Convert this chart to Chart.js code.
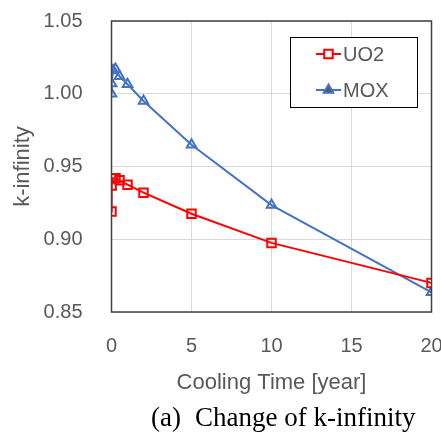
<!DOCTYPE html>
<html>
<head>
<meta charset="utf-8">
<script src="https://cdn.jsdelivr.net/npm/chart.js@4.4.1/dist/chart.umd.min.js"></script>
<style>
  html, body { margin: 0; padding: 0; background: #fff; }
  #wrap { width: 441px; height: 435px; }
</style>
</head>
<body>
<div id="wrap"><canvas id="kinf" width="441" height="435"></canvas></div>
<script>
// datos
const coolingTime = [0, 0.01, 0.1, 0.25, 0.5, 1, 2, 5, 10, 20];
const uo2 = [0.919, 0.937, 0.942, 0.942, 0.9405, 0.9375, 0.932, 0.9175, 0.8975, 0.870];
const mox = [1.000, 1.007, 1.016, 1.017, 1.012, 1.0065, 0.995, 0.965, 0.9235, 0.8635];
const xTicks = [0, 5, 10, 15, 20];
const yTicks = [0.85, 0.90, 0.95, 1.00, 1.05];
const captionTag = "(a)";
const captionText = "Change of k-infinity";

const grey = "#595959";
const sans = "'Liberation Sans', Arial, sans-serif";
const serif = "'Liberation Serif', 'Times New Roman', serif";

const toPoints = (ys) => coolingTime.map((x, i) => ({ x, y: ys[i] }));

// marco del area, leyenda y pie tipo Excel
const frameLegend = {
  id: "frameLegend",
  afterDraw(chart) {
    const { ctx, chartArea: a } = chart;
    ctx.save();
    ctx.strokeStyle = "#404040";
    ctx.lineWidth = 1.5;
    ctx.strokeRect(a.left, a.top, a.right - a.left, a.bottom - a.top);

    // leyenda
    ctx.fillStyle = "#fff";
    ctx.fillRect(290, 37, 127, 70);
    ctx.strokeStyle = "#000";
    ctx.lineWidth = 1;
    ctx.strokeRect(290.5, 37.5, 127, 70);
    const rows = [54, 90];
    chart.data.datasets.forEach((ds, i) => {
      const y = rows[i];
      ctx.strokeStyle = ds.borderColor;
      ctx.lineWidth = 2;
      ctx.beginPath();
      ctx.moveTo(316, y);
      ctx.lineTo(341, y);
      ctx.stroke();
      Chart.helpers.drawPoint(ctx, {
        pointStyle: ds.pointStyle,
        radius: ds.pointRadius,
        borderWidth: 2
      }, 328.5, y);
      ctx.fillStyle = grey;
      ctx.font = "20px " + sans;
      ctx.textBaseline = "middle";
      ctx.textAlign = "left";
      ctx.fillText(ds.label, 343, y + 1);
    });

    // pie de figura
    ctx.fillStyle = "#000";
    ctx.font = "27px " + serif;
    ctx.textAlign = "left";
    ctx.textBaseline = "alphabetic";
    ctx.fillText(captionTag, 151, 426);
    ctx.fillText(captionText, 195, 426);
    ctx.restore();
  }
};

new Chart(document.getElementById("kinf"), {
  type: "line",
  data: {
    datasets: [{
      label: "UO2",
      data: toPoints(uo2),
      borderColor: "#ff0000",
      pointBorderColor: "#ff0000",
      pointBackgroundColor: "rgba(0,0,0,0)",
      borderWidth: 2,
      pointStyle: "rect",
      pointRadius: 6,
      pointBorderWidth: 2,
      tension: 0
    }, {
      label: "MOX",
      data: toPoints(mox),
      borderColor: "#4472c4",
      pointBorderColor: "#4472c4",
      pointBackgroundColor: "rgba(0,0,0,0)",
      borderWidth: 2,
      pointStyle: "triangle",
      pointRadius: 5.5,
      pointBorderWidth: 2,
      tension: 0
    }]
  },
  options: {
    responsive: false,
    animation: false,
    layout: { padding: { top: 21, right: 9.5, bottom: 35, left: 0 } },
    plugins: { legend: { display: false }, tooltip: { enabled: false } },
    scales: {
      x: {
        type: "linear",
        min: 0,
        max: 20,
        afterBuildTicks: (s) => { s.ticks = xTicks.map(v => ({ value: v })); },
        afterFit: (s) => { s.height = 88; s.paddingLeft = 0; s.paddingRight = 0; },
        grid: { color: "#d9d9d9", drawTicks: false },
        border: { display: false },
        ticks: { color: grey, font: { family: sans, size: 20 }, padding: 22 },
        title: {
          display: true, text: "Cooling Time [year]", color: grey,
          font: { family: sans, size: 22 }, padding: { top: 0, bottom: 4 }
        }
      },
      y: {
        min: 0.85,
        max: 1.05,
        afterBuildTicks: (s) => { s.ticks = yTicks.map(v => ({ value: v })); },
        afterFit: (s) => { s.width = 111.5; s.paddingTop = 0; s.paddingBottom = 0; },
        grid: { color: "#d9d9d9", drawTicks: false },
        border: { display: false },
        ticks: {
          color: grey, font: { family: sans, size: 20 }, padding: 29,
          callback: (v) => v.toFixed(2)
        },
        title: {
          display: true, text: "k-infinity", color: grey,
          font: { family: sans, size: 22 }, padding: { top: 10, bottom: 0 }
        }
      }
    }
  },
  plugins: [frameLegend]
});
</script>
</body>
</html>
